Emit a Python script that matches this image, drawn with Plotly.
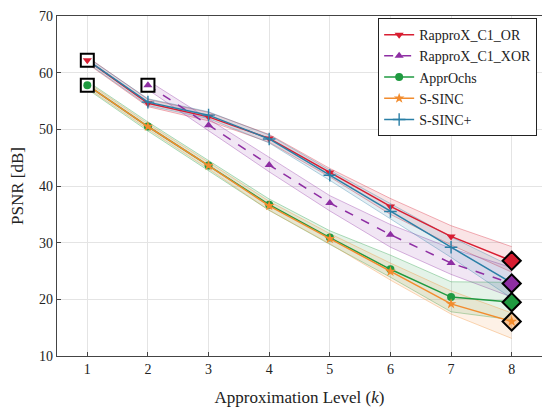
import plotly.graph_objects as go

# approximation levels k
levels = [1, 2, 3, 4, 5, 6, 7, 8]
xor_levels = [2, 3, 4, 5, 6, 7, 8]

# mean PSNR per method, with the spread shown as a band
or_mean = [62.2, 54.6, 52.2, 48.4, 42.4, 36.4, 31.1, 26.8]
or_upper = [62.8, 55.3, 53.0, 49.1, 43.1, 37.8, 33.0, 29.3]
or_lower = [61.6, 54.0, 51.5, 47.7, 41.6, 35.0, 29.6, 24.8]

xor_mean = [57.8, 50.7, 43.7, 37.0, 31.4, 26.4, 22.8]
xor_upper = [58.6, 51.8, 45.1, 38.3, 33.2, 29.0, 25.6]
xor_lower = [57.0, 49.7, 42.5, 35.6, 29.2, 24.4, 20.4]

ochs_mean = [57.8, 50.5, 43.6, 36.7, 30.9, 25.3, 20.4, 19.5]
ochs_upper = [58.5, 51.3, 44.5, 37.7, 32.1, 27.8, 23.1, 23.0]
ochs_lower = [57.1, 49.7, 42.7, 35.7, 29.7, 23.9, 17.8, 16.4]

ssinc_mean = [57.8, 50.5, 43.6, 36.5, 30.7, 24.9, 19.2, 16.1]
ssinc_upper = [58.3, 51.0, 44.2, 37.3, 31.6, 26.4, 21.5, 17.6]
ssinc_lower = [57.3, 50.0, 43.0, 35.7, 29.8, 23.4, 17.4, 13.1]

ssincp_mean = [62.2, 54.8, 52.5, 48.3, 41.9, 35.5, 29.2, 22.9]
ssincp_upper = [62.7, 55.4, 53.1, 49.0, 42.8, 36.9, 31.0, 25.8]
ssincp_lower = [61.7, 54.2, 51.9, 47.6, 41.0, 34.2, 27.4, 20.2]

FONT = "Liberation Serif"

series = [
    # name, x, mean, upper, lower, colour, rgb, symbol, dash
    ("RapproX_C1_OR", levels, or_mean, or_upper, or_lower, "#d81e32", "216,30,50", "triangle-down", "solid"),
    ("RapproX_C1_XOR", xor_levels, xor_mean, xor_upper, xor_lower, "#8e2ea3", "142,46,163", "triangle-up", "dash"),
    ("ApprOchs", levels, ochs_mean, ochs_upper, ochs_lower, "#1f9a40", "31,154,64", "circle", "solid"),
    ("S-SINC", levels, ssinc_mean, ssinc_upper, ssinc_lower, "#f28c2e", "242,140,46", "star", "solid"),
    ("S-SINC+", levels, ssincp_mean, ssincp_upper, ssincp_lower, "#2a7fa6", "42,127,166", "cross-thin", "solid"),
]

fig = go.Figure()

# shaded spread bands
for name, x, mean, upper, lower, color, rgb, symbol, dash in series:
    fig.add_trace(go.Scatter(
        x=x, y=upper, mode="lines",
        line=dict(color=f"rgba({rgb},0.35)", width=1),
        showlegend=False, hoverinfo="skip",
    ))
    fig.add_trace(go.Scatter(
        x=x, y=lower, mode="lines", fill="tonexty",
        fillcolor=f"rgba({rgb},0.12)",
        line=dict(color=f"rgba({rgb},0.35)", width=1),
        showlegend=False, hoverinfo="skip",
    ))


def marker_style(symbol, color, size):
    if symbol == "cross-thin":
        return dict(symbol=symbol, size=size + 1, color=color, line=dict(color=color, width=1.4))
    return dict(symbol=symbol, size=size, color=color, line=dict(width=0))


for name, x, mean, upper, lower, color, rgb, symbol, dash in series:
    fig.add_trace(go.Scatter(
        x=x, y=mean, mode="lines+markers", name=name,
        line=dict(color=color, width=1.5, dash=dash),
        marker=marker_style(symbol, color, 8),
    ))

# highlighted points: squares at the start, diamonds at k=8
square_points = [(0, 0), (2, 0), (1, 0)]  # (series index, point index)
diamond_series = [0, 1, 2, 3]

for si, pi in square_points:
    name, x, mean, upper, lower, color, rgb, symbol, dash = series[si]
    fig.add_trace(go.Scatter(
        x=[x[pi]], y=[mean[pi]], mode="markers", showlegend=False, hoverinfo="skip",
        marker=dict(symbol="square", size=13, color="white", line=dict(color="black", width=2)),
    ))
    fig.add_trace(go.Scatter(
        x=[x[pi]], y=[mean[pi]], mode="markers", showlegend=False, hoverinfo="skip",
        marker=marker_style(symbol, color, 8),
    ))

for si in diamond_series:
    name, x, mean, upper, lower, color, rgb, symbol, dash = series[si]
    fill = f"rgba({rgb},0.45)" if symbol == "star" else color
    fig.add_trace(go.Scatter(
        x=[x[-1]], y=[mean[-1]], mode="markers", showlegend=False, hoverinfo="skip",
        marker=dict(symbol="diamond", size=14, color=fill, line=dict(color="black", width=2)),
    ))
    fig.add_trace(go.Scatter(
        x=[x[-1]], y=[mean[-1]], mode="markers", showlegend=False, hoverinfo="skip",
        marker=marker_style(symbol, color, 7),
    ))

# the page body adds an 8px offset, so the figure is sized to fit the window
fig.update_layout(
    width=542, height=403,
    margin=dict(l=49, r=8, t=8, b=55),
    paper_bgcolor="white", plot_bgcolor="white",
    font=dict(family=FONT, size=14, color="#222"),
    legend=dict(
        x=0.99, y=0.994, xanchor="right", yanchor="top",
        bgcolor="white", bordercolor="#222", borderwidth=1,
        font=dict(family=FONT, size=14),
        traceorder="normal", tracegroupgap=0,
    ),
)
fig.update_xaxes(
    range=[0.5, 8.5], tickvals=levels, automargin=False,
    title=dict(text="Approximation Level (<i>k</i>)"),
    showgrid=True, gridcolor="#e4e4e4", gridwidth=1,
    showline=True, linecolor="#444", linewidth=1.2, mirror=True,
    ticks="inside", ticklen=4, tickcolor="#444", zeroline=False,
)
fig.update_yaxes(
    range=[10, 70], tickvals=[10, 20, 30, 40, 50, 60, 70], automargin=False,
    ticklabeloverflow="allow",
    title=dict(text="PSNR [dB]"),
    showgrid=True, gridcolor="#e4e4e4", gridwidth=1,
    showline=True, linecolor="#444", linewidth=1.2, mirror=True,
    ticks="inside", ticklen=4, tickcolor="#444", zeroline=False,
)

fig.write_html("out.html")
